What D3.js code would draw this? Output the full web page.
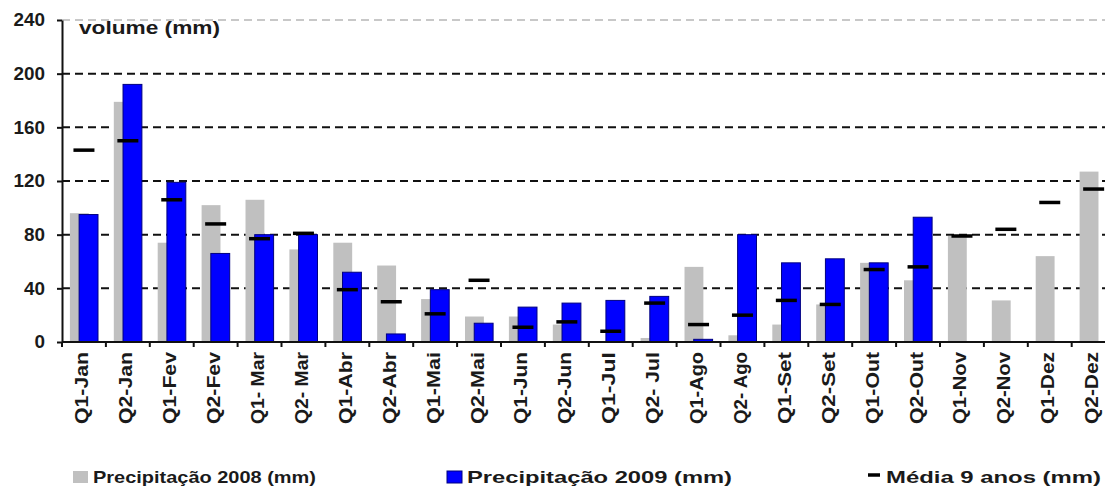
<!DOCTYPE html>
<html>
<head>
<meta charset="utf-8">
<script src="https://cdn.jsdelivr.net/npm/d3@7/dist/d3.min.js"></script>
<style>
  html, body { margin: 0; padding: 0; background: #ffffff; }
  svg { display: block; font-family: "Liberation Sans", Arial, sans-serif; }
</style>
</head>
<body>
<svg id="chart" width="1105" height="486"></svg>
<script>
// Fortnightly periods
const categories = [
  "Q1-Jan", "Q2-Jan", "Q1-Fev", "Q2-Fev", "Q1- Mar", "Q2- Mar",
  "Q1-Abr", "Q2-Abr", "Q1-Mai", "Q2-Mai", "Q1-Jun", "Q2-Jun",
  "Q1-Jul", "Q2- Jul", "Q1-Ago", "Q2- Ago", "Q1-Set", "Q2-Set",
  "Q1-Out", "Q2-Out", "Q1-Nov", "Q2-Nov", "Q1-Dez", "Q2-Dez"
];

// Rainfall per fortnight (mm)
const precip2008 = [96, 179, 74, 102, 106, 69, 74, 57, 32, 19, 19, 13,
                    0, 3, 56, 5, 13, 28, 59, 46, 79, 31, 64, 127];
const precip2009 = [95, 192, 119, 66, 80, 80, 52, 6, 39, 14, 26, 29,
                    31, 34, 2, 80, 59, 62, 59, 93, null, null, null, null];
const media9anos = [143, 150, 106, 88, 77, 81, 39, 30, 21, 46, 11, 15,
                    8, 29, 13, 20, 31, 28, 54, 56, 79, 84, 104, 114];

const yTicks = [0, 40, 80, 120, 160, 200, 240];
const yTitle = "volume (mm)";
const legendLabels = ["Precipitação 2008 (mm)", "Precipitação 2009 (mm)", "Média 9 anos (mm)"];

const svg = d3.select("#chart");
const W = 1105;
const ink = "#1a1a1a";

const x = d3.scaleBand().domain(categories).range([62, 62 + 24 * 43.9]).padding(0);
const y = d3.scaleLinear().domain([0, 240]).range([342, 20]);
const bw = x.bandwidth();

// Horizontal dashed gridlines
svg.append("g").selectAll("line")
  .data(yTicks.filter(d => d > 0))
  .join("line")
  .attr("x1", 62).attr("x2", W)
  .attr("y1", d => y(d)).attr("y2", d => y(d))
  .attr("stroke", d => d === 240 ? "#c8c8c8" : "#111")
  .attr("stroke-width", 2)
  .attr("stroke-dasharray", "8,5");

// 2008 bars (behind)
svg.append("g").selectAll("rect")
  .data(categories.map((c, i) => ({ c, v: precip2008[i] })).filter(d => d.v != null && d.v > 0))
  .join("rect")
  .attr("x", d => x(d.c) + bw * 0.18)
  .attr("width", bw * 0.43)
  .attr("y", d => y(d.v))
  .attr("height", d => y(0) - y(d.v))
  .attr("fill", "#c0c0c0");

// 2009 bars
svg.append("g").selectAll("rect")
  .data(categories.map((c, i) => ({ c, v: precip2009[i] })).filter(d => d.v != null))
  .join("rect")
  .attr("x", d => x(d.c) + bw * 0.39)
  .attr("width", bw * 0.43)
  .attr("y", d => y(d.v))
  .attr("height", d => y(0) - y(d.v))
  .attr("fill", "#0000ff")
  .attr("stroke", "#000080")
  .attr("stroke-width", 1);

// 9-year average markers
svg.append("g").selectAll("line")
  .data(categories.map((c, i) => ({ c, v: media9anos[i] })))
  .join("line")
  .attr("x1", d => x(d.c) + bw * 0.5 - 10.5)
  .attr("x2", d => x(d.c) + bw * 0.5 + 10.5)
  .attr("y1", d => y(d.v)).attr("y2", d => y(d.v))
  .attr("stroke", "#000")
  .attr("stroke-width", 3.5);

// Y axis
const yAxis = svg.append("g")
  .attr("transform", "translate(62,0)")
  .call(d3.axisLeft(y).tickValues(yTicks).tickSize(5).tickPadding(12).tickSizeOuter(0));
yAxis.select(".domain").attr("stroke", "#111").attr("stroke-width", 2);
yAxis.selectAll(".tick line").attr("stroke", "#111").attr("stroke-width", 2);
yAxis.selectAll(".tick text")
  .attr("font-size", 18)
  .attr("font-weight", "bold")
  .attr("font-family", "'Liberation Sans', Arial, sans-serif")
  .attr("fill", ink)
  .attr("textLength", d => String(d).length * 10.5)
  .attr("lengthAdjust", "spacingAndGlyphs");

// X axis
const xAxis = svg.append("g").attr("transform", `translate(0,${y(0)})`);
xAxis.append("line")
  .attr("x1", 62).attr("x2", W).attr("y1", 0).attr("y2", 0)
  .attr("stroke", "#111").attr("stroke-width", 2);
xAxis.selectAll("line.tk")
  .data(categories)
  .join("line")
  .attr("class", "tk")
  .attr("x1", d => x(d)).attr("x2", d => x(d))
  .attr("y1", 0).attr("y2", 5)
  .attr("stroke", "#111").attr("stroke-width", 2);
xAxis.selectAll("text")
  .data(categories)
  .join("text")
  .attr("transform", d => `translate(${x(d) + bw / 2 - 2},10) rotate(-90)`)
  .attr("text-anchor", "end")
  .attr("dy", "0.36em")
  .attr("font-size", 18)
  .attr("font-weight", "bold")
  .attr("fill", ink)
  .attr("textLength", 72)
  .attr("lengthAdjust", "spacingAndGlyphs")
  .text(d => d);

// Axis title
svg.append("text")
  .attr("x", 79).attr("y", 34)
  .attr("font-size", 18)
  .attr("font-weight", "bold")
  .attr("fill", ink)
  .attr("textLength", 141)
  .attr("lengthAdjust", "spacingAndGlyphs")
  .text(yTitle);

// Legend
const lg = svg.append("g").attr("font-size", 17).attr("font-weight", "bold").attr("fill", ink);
lg.append("rect").attr("x", 73).attr("y", 471).attr("width", 15).attr("height", 12).attr("fill", "#c0c0c0");
lg.append("text").attr("x", 93).attr("y", 483)
  .attr("textLength", 223).attr("lengthAdjust", "spacingAndGlyphs").text(legendLabels[0]);
lg.append("rect").attr("x", 447).attr("y", 471).attr("width", 15).attr("height", 12)
  .attr("fill", "#0000ff").attr("stroke", "#000080").attr("stroke-width", 1);
lg.append("text").attr("x", 467).attr("y", 483)
  .attr("textLength", 265).attr("lengthAdjust", "spacingAndGlyphs").text(legendLabels[1]);
lg.append("line").attr("x1", 868).attr("x2", 880).attr("y1", 475).attr("y2", 475)
  .attr("stroke", "#000").attr("stroke-width", 3.5);
lg.append("text").attr("x", 886).attr("y", 483)
  .attr("textLength", 215).attr("lengthAdjust", "spacingAndGlyphs").text(legendLabels[2]);
</script>
</body>
</html>
